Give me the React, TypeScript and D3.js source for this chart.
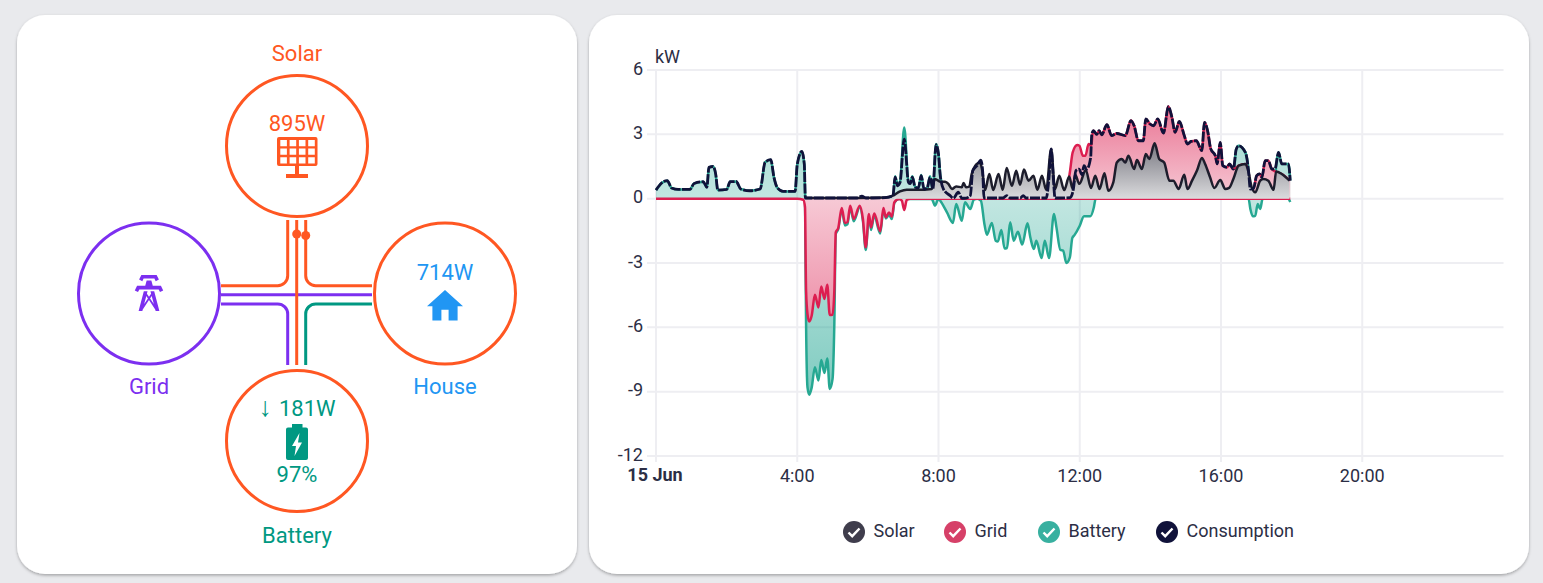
import * as d3 from "d3";

type Pt = [number, number];

const WIDTH = 1543;
const HEIGHT = 583;
const FONT = "Roboto, sans-serif";

const ORANGE = "#ff5722";
const PURPLE = "#7c2ff0";
const GREEN = "#009882";
const BLUE = "#2196f3";

// power readings: [hour of day, kW]
const morningLoad: Pt[] = [[0,.4],[.16,.73],[.32,.84],[.44,.5],[.63,.43],[.96,.43],[1.08,.71],[1.34,.79],[1.44,.53],[1.5,1.46],[1.62,1.5],[1.69,1.15],[1.75,.4],[2,.43],[2.1,.79],[2.27,.8],[2.4,.45],[2.66,.37],[2.95,.45],[3.09,1.7],[3.25,1.82],[3.34,1],[3.44,.5],[3.6,.34],[3.94,.34],[4,1.6],[4.13,2.2],[4.2,1.6]];

const afternoonLoad: Pt[] = [[12.39,3.17],[12.48,3],[12.55,3.17],[12.62,2.98],[12.77,3.45],[12.9,2.94],[13.05,3.04],[13.29,2.94],[13.45,3.64],[13.54,3.4],[13.66,2.7],[13.8,2.7],[13.87,3.72],[13.99,3.48],[14.09,3.4],[14.21,3.72],[14.37,3.06],[14.51,4.3],[14.61,3.79],[14.7,3.09],[14.82,3.6],[14.96,2.94],[15.05,2.55],[15.15,2.67],[15.3,2.7],[15.46,2.24],[15.53,3.56],[15.62,3.17],[15.71,2.32],[15.84,2],[15.89,1.62],[15.98,2.62],[16.05,1.54],[16.17,1.46],[16.24,1.62],[16.35,1.38]];

const consumption: Pt[] = [...morningLoad,[4.23,.03],[5.7,.03],[5.83,.12],[5.95,.03],[6.15,.03],[6.49,.05],[6.71,.14],[6.77,1],[6.84,.6],[6.91,.75],[7.03,2.78],[7.15,.76],[7.2,.7],[7.26,1],[7.34,.53],[7.43,.5],[7.51,1.07],[7.59,.45],[7.68,.5],[7.76,1],[7.84,.45],[7.93,2.52],[8,2.08],[8.05,1.07],[8.14,.45],[8.33,.14],[8.42,.02],[8.56,.3],[8.66,.02],[8.78,.03],[8.9,.14],[8.97,1.3],[9.09,1.54],[9.2,1.8],[9.25,1.3],[9.29,.03],[9.83,.03],[9.93,.14],[10.03,.03],[10.31,.03],[10.4,.14],[10.48,.03],[11.05,.03],[11.13,1],[11.19,2.32],[11.25,1],[11.3,.03],[11.73,.05],[11.82,.45],[11.89,1.3],[11.98,1.38],[12.06,1.12],[12.12,1.54],[12.2,1.38],[12.31,1.93],[12.34,3],...afternoonLoad,[16.43,2.3],[16.5,2.47],[16.69,2.16],[16.78,1.3],[16.83,.45],[16.92,.47],[17.01,1.07],[17.09,1.15],[17.16,1],[17.25,1.77],[17.34,1.77],[17.44,1.38],[17.53,1.4],[17.63,2.16],[17.72,1.62],[17.91,1.62],[17.96,.84]];

const solar: Pt[] = [[4.23,.03],[5.8,.03],[6.49,.05],[6.71,.14],[6.91,.34],[7.1,.42],[7.39,.41],[7.81,.45],[7.9,.92],[8.05,.79],[8.19,.79],[8.28,.69],[8.38,.45],[8.5,.57],[8.66,.53],[8.71,.73],[8.78,.53],[8.87,.56],[8.94,1.15],[9.04,1.54],[9.18,1.69],[9.24,1.3],[9.32,.4],[9.44,1.15],[9.55,.4],[9.7,1.15],[9.82,.41],[9.93,1.43],[10.08,.6],[10.2,1.3],[10.31,.65],[10.42,1.36],[10.55,.84],[10.69,1.07],[10.8,.41],[10.93,1.07],[11.05,.41],[11.19,2.32],[11.3,.45],[11.42,1.07],[11.56,.4],[11.7,1.03],[11.8,.45],[11.87,1.12],[11.99,.69],[12.17,1.34],[12.32,.5],[12.44,1.07],[12.56,.45],[12.7,1.18],[12.81,.37],[12.95,.76],[13.05,1.69],[13.19,1.85],[13.29,1.69],[13.38,2],[13.54,1.38],[13.62,1.8],[13.76,1.38],[13.87,2.08],[13.97,1.85],[14.12,2.58],[14.25,1.85],[14.39,1.69],[14.54,.84],[14.65,.84],[14.8,.45],[14.96,1.12],[15.05,.45],[15.18,.84],[15.32,1.31],[15.46,1.9],[15.55,1.62],[15.69,1],[15.81,.5],[15.98,.87],[16.12,.45],[16.23,.5],[16.35,.92],[16.5,1.54],[16.69,1.62],[16.78,1.23],[16.87,.53],[16.97,.3],[17.11,.84],[17.2,.92],[17.34,.84],[17.49,.41],[17.56,1.27],[17.72,1.15],[17.94,.84]];

// top of the grid band, stacked on solar
const gridImportTop: Pt[] = [[11.4,0],[11.55,.37],[11.63,.4],[11.72,1.23],[11.8,2.16],[11.93,2.5],[11.99,2.47],[12.09,2],[12.16,2],[12.25,2.55],[12.33,2.47],[12.36,3],...afternoonLoad,[16.43,1.45],[16.5,1.54],[16.69,1.62],[16.78,1.23],[16.83,.5],[16.92,.47],[17.01,1.07],[17.09,1.15],[17.16,1],[17.25,1.77],[17.34,1.77],[17.44,1.38],[17.53,1.27],[17.72,1.15],[17.96,.84]];

const gridExport: Pt[] = [[0,0],[4,0],[4.17,-.05],[4.22,-.4],[4.25,-4.3],[4.29,-5.38],[4.34,-5.73],[4.41,-5.45],[4.5,-4.48],[4.6,-5.07],[4.68,-4.1],[4.77,-4.68],[4.85,-4.02],[4.92,-5.42],[5,-5.41],[5.05,-4.29],[5.09,-1.57],[5.16,-1.37],[5.26,-.43],[5.35,-1.13],[5.42,-1.1],[5.5,-.33],[5.6,-.95],[5.77,-.33],[5.86,-.95],[5.94,-2.27],[6.03,-.71],[6.09,-1.34],[6.18,-.69],[6.35,-1.52],[6.44,-.43],[6.51,-.87],[6.6,-.64],[6.68,-.84],[6.75,-.17],[6.88,-.02],[6.96,-.09],[7.03,-.53],[7.1,-.06],[7.2,0],[17.96,0]];

// top of the battery band while discharging
const batteryOutTop: Pt[] = [...morningLoad,[4.23,0],[6.71,0],[6.77,1.05],[6.84,.7],[6.91,.8],[7.03,3.32],[7.15,.8],[7.2,.75],[7.26,1.05],[7.34,.55],[7.43,.5],[7.51,1.1],[7.59,.45],[7.68,.5],[7.76,1.05],[7.84,.45],[7.93,2.55],[8,2.1],[8.05,1.1],[8.14,.5],[8.3,0],[16.3,0],[16.38,1.5],[16.43,2.3],[16.5,2.47],[16.69,2.16],[16.78,1.3],[16.83,0],[17.5,0],[17.55,1.3],[17.63,2.16],[17.72,1.62],[17.91,1.62],[17.96,.84]];

// bottom of the battery band while charging, stacked under grid export
const batteryInBottom: Pt[] = [[4.22,0],[4.25,-5.84],[4.29,-8.8],[4.34,-9.14],[4.41,-8.8],[4.5,-7.86],[4.6,-8.48],[4.68,-7.52],[4.77,-8.13],[4.85,-7.45],[4.92,-8.87],[5,-8.4],[5.05,-5.84],[5.09,-1.65],[5.16,-1.42],[5.26,-.48],[5.35,-1.25],[5.42,-1.2],[5.5,-.4],[5.6,-1.05],[5.77,-.4],[5.86,-1.05],[5.94,-2.39],[6.03,-.8],[6.09,-1.46],[6.18,-.8],[6.35,-1.62],[6.44,-.5],[6.51,-.92],[6.6,-.75],[6.68,-.95],[6.75,-.2],[6.88,-.02],[7.8,0],[7.84,-.1],[7.9,-.33],[8,0],[8.05,-.1],[8.24,-.64],[8.41,-1.13],[8.5,-.25],[8.66,-1.03],[8.75,-.17],[8.9,-.48],[9,-.05],[9.1,0],[9.2,-.09],[9.3,-1.18],[9.37,-1.68],[9.51,-1.13],[9.62,-1.96],[9.68,-2],[9.78,-1.46],[9.87,-2.32],[9.94,-2.3],[10.03,-1.1],[10.13,-1.96],[10.25,-1.54],[10.37,-2.14],[10.52,-1.15],[10.6,-1.8],[10.7,-2.35],[10.77,-1.96],[10.92,-2.77],[11.01,-1.96],[11.13,-2.77],[11.27,-.71],[11.34,-1.34],[11.45,-2.39],[11.53,-2.42],[11.62,-3],[11.72,-2.74],[11.79,-1.83],[11.85,-1.7],[12,-1.26],[12.12,-.82],[12.3,-.82],[12.4,-.4],[12.45,0],[16.78,0],[16.83,-.47],[16.9,-.82],[16.97,-.8],[17.04,-.25],[17.11,-.48],[17.18,0],[17.9,0],[17.96,-.15]];

const yTicks = [6, 3, 0, -3, -6, -9, -12];
const hourTicks = [0, 4, 8, 12, 16, 20];

const legendItems = [
  { name: "Solar", color: "#3f3d4c" },
  { name: "Grid", color: "#d64068" },
  { name: "Battery", color: "#38b0a0" },
  { name: "Consumption", color: "#10123a" },
];
const legendX = [854, 955, 1049, 1167];

const x = d3.scaleLinear().domain([0, 24]).range([656, 1503.5]);
const y = d3.scaleLinear().domain([6, -12]).range([70, 456]);

const line = d3.line<Pt>().x((d) => x(d[0])).y((d) => y(d[1])).curve(d3.curveMonotoneX);
const area = d3.area<Pt>().x((d) => x(d[0])).y1((d) => y(d[1])).y0(y(0)).curve(d3.curveMonotoneX);

// fill gets stronger the further a band is from zero
const Gradient = ({ id, color, top, bottom, zero }: { id: string; color: string; top: [number, number]; bottom: [number, number]; zero: number }) => {
  const pos = (v: number) => (y(v) - y(top[0])) / (y(bottom[0]) - y(top[0]));
  return (
    <linearGradient id={id} gradientUnits="userSpaceOnUse" x1={0} x2={0} y1={y(top[0])} y2={y(bottom[0])}>
      <stop offset={0} stopColor={color} stopOpacity={top[1]} />
      <stop offset={pos(0)} stopColor={color} stopOpacity={zero} />
      <stop offset={1} stopColor={color} stopOpacity={bottom[1]} />
    </linearGradient>
  );
};

const Band = ({ data, fill, stroke, cover = true }: { data: Pt[]; fill: string; stroke: string; cover?: boolean }) => (
  <g>
    {cover && <path d={area(data) ?? ""} fill="#fff" />}
    <path d={area(data) ?? ""} fill={fill} />
    <path d={line(data) ?? ""} fill="none" stroke={stroke} strokeWidth={2.5} />
  </g>
);

const FlowText = ({ px, py, color, size = 22, children }: { px: number; py: number; color: string; size?: number; children: React.ReactNode }) => (
  <text x={px} y={py} fill={color} fontSize={size} textAnchor="middle" fontFamily={FONT}>
    {children}
  </text>
);

const Flow = () => {
  const r = 70.5;
  const nodes = [
    { cx: 297, cy: 146, color: ORANGE },
    { cx: 149, cy: 293.5, color: PURPLE },
    { cx: 445, cy: 293.5, color: ORANGE },
    { cx: 297, cy: 441, color: ORANGE },
  ];
  return (
    <g>
      <g fill="none" strokeWidth={3}>
        <path d="M221,294.7H372" stroke={PURPLE} />
        <path d="M287.7,220V275.7a10,10 0 0 1 -10,10H221" stroke={ORANGE} />
        <path d="M305.7,220V275.7a10,10 0 0 0 10,10H372" stroke={ORANGE} />
        <path d="M221,304H277.7a10,10 0 0 1 10,10V365" stroke={PURPLE} />
        <path d="M372,304H315.7a10,10 0 0 0 -10,10V365" stroke={GREEN} />
        <path d="M296.7,220V365" stroke={ORANGE} />
      </g>
      <circle cx={296.7} cy={234} r={4.5} fill={ORANGE} />
      <circle cx={305.7} cy={235.5} r={4.5} fill={ORANGE} />
      {nodes.map((n, i) => (
        <circle key={i} cx={n.cx} cy={n.cy} r={r} fill="none" stroke={n.color} strokeWidth={3} />
      ))}

      <FlowText px={297} py={61} color={ORANGE}>Solar</FlowText>
      <FlowText px={297} py={131} color={ORANGE}>895W</FlowText>
      <g fill={ORANGE}>
        <path
          fillRule="evenodd"
          d={
            "M279,137H315.5a2,2 0 0 1 2,2V164a2,2 0 0 1 -2,2H279a2,2 0 0 1 -2,-2V139a2,2 0 0 1 2,-2Z" +
            d3.range(4).map((c) => d3.range(3).map((w) => `M${280.3 + c * 9.3},${140 + w * 8.6}h6.6v6.2h-6.6Z`).join("")).join("")
          }
        />
        <rect x={295} y={165} width={4} height={12} />
        <rect x={286} y={174} width={22} height={4} />
      </g>

      <g transform="translate(127.4,271.4) scale(1.8)" fill={PURPLE}>
        <path d="M8.28,5.45L6.5,4.55L7.76,2H16.23L17.5,4.55L15.72,5.44L15,4H9L8.28,5.45M18.62,8H14.09L13.3,5H10.7L9.91,8H5.38L4.1,10.55L5.89,11.44L6.62,10H17.38L18.1,11.45L19.89,10.56L18.62,8M17.77,22H15.7L15.46,21.1L12,15.9L8.53,21.1L8.3,22H6.23L9.12,11H11.19L10.83,12.35L12,14.1L13.16,12.35L12.81,11H14.88L17.77,22M11.4,15L10.5,13.65L9.32,18.13L11.4,15M14.68,18.12L13.5,13.64L12.6,15L14.68,18.12Z" />
      </g>
      <FlowText px={149} py={394} color={PURPLE}>Grid</FlowText>

      <FlowText px={445} py={280} color={BLUE}>714W</FlowText>
      <g transform="translate(423.4,284.6) scale(1.8)" fill={BLUE}>
        <path d="M10,20V14H14V20H19V12H22L12,3L2,12H5V20H10Z" />
      </g>
      <FlowText px={445} py={394} color={BLUE}>House</FlowText>

      <FlowText px={297} py={416} color={GREEN}>
        <tspan fontSize={27} fontWeight={500}>↓</tspan>
        <tspan dx={7}>181W</tspan>
      </FlowText>
      <path
        fill={GREEN}
        fillRule="evenodd"
        d="M292,424H302.5V427.5H306a2,2 0 0 1 2,2V458a2,2 0 0 1 -2,2H288a2,2 0 0 1 -2,-2V429.5a2,2 0 0 1 2,-2H292Z M299.5,433L292,446H296L294.5,456L302,442.5H298Z"
      />
      <FlowText px={297} py={482} color={GREEN}>97%</FlowText>
      <FlowText px={297} py={543} color={GREEN}>Battery</FlowText>
    </g>
  );
};

const Chart = () => {
  const textColor = "#2c2e45";
  return (
    <g fontFamily={FONT}>
      {/* grid */}
      {yTicks.map((t) => (
        <g key={t}>
          <line x1={647} x2={x(24)} y1={y(t)} y2={y(t)} stroke="#eeeef2" strokeWidth={2} />
          <text x={643} y={y(t) + 4.5} textAnchor="end" fontSize={18} fill={textColor}>{t}</text>
        </g>
      ))}
      {hourTicks.map((h) => (
        <line key={h} x1={x(h)} x2={x(h)} y1={y(6)} y2={462} stroke="#eeeef2" strokeWidth={2} />
      ))}
      <text x={655} y={63} fontSize={18} fill={textColor}>kW</text>

      <Band data={batteryOutTop} fill="url(#batteryFill)" stroke="#26a892" cover={false} />
      <Band data={batteryInBottom} fill="url(#batteryFill)" stroke="#26a892" cover={false} />
      <Band data={gridImportTop} fill="url(#gridFill)" stroke="#dc1e50" />
      <Band data={gridExport} fill="url(#gridFill)" stroke="#dc1e50" />
      <Band data={solar} fill="url(#solarFill)" stroke="#1d1d2c" />
      <path d={line(consumption) ?? ""} fill="none" stroke="#10123a" strokeWidth={2.8} strokeDasharray="10 1.5" />

      {/* x axis labels */}
      {hourTicks.map((h) =>
        h === 0 ? (
          <text key={h} x={x(h) - 1} y={481} textAnchor="middle" fontSize={18} fontWeight={700} fill={textColor}>15 Jun</text>
        ) : (
          <text key={h} x={x(h)} y={482} textAnchor="middle" fontSize={18} fill={textColor}>{`${h}:00`}</text>
        ),
      )}

      {/* legend */}
      {legendItems.map((item, i) => (
        <g key={item.name} transform={`translate(${legendX[i]},532)`}>
          <circle r={11} fill={item.color} />
          <path d="M-5.5,0.5L-1.8,4.2L5.5,-3.5" fill="none" stroke="#fff" strokeWidth={2.4} />
          <text x={19.5} y={5} fontSize={18} fill={textColor}>{item.name}</text>
        </g>
      ))}
    </g>
  );
};

export default function App() {
  return (
    <svg
      width={WIDTH}
      height={HEIGHT}
      viewBox={`0 0 ${WIDTH} ${HEIGHT}`}
      style={{ position: "fixed", left: 0, top: 0, display: "block" }}
    >
      <defs>
        <filter id="cardShadow" x="-5%" y="-5%" width="110%" height="110%">
          <feDropShadow dx={0} dy={1.5} stdDeviation={1.5} floodColor="#000" floodOpacity={0.3} />
        </filter>
        <Gradient id="gridFill" color="#dc1e50" top={[4.4, 0.62]} bottom={[-5.8, 0.5]} zero={0.24} />
        <Gradient id="batteryFill" color="#009882" top={[3.4, 0.35]} bottom={[-9.2, 0.5]} zero={0.24} />
        <Gradient id="solarFill" color="#1d1d2c" top={[2.6, 0.6]} bottom={[-1, 0.12]} zero={0.16} />
      </defs>
      <rect width={WIDTH} height={HEIGHT} fill="#e9eaed" />
      <rect x={17} y={15} width={560} height={559} rx={28} fill="#fff" filter="url(#cardShadow)" />
      <rect x={589} y={15} width={940} height={559} rx={28} fill="#fff" filter="url(#cardShadow)" />
      <Flow />
      <Chart />
    </svg>
  );
}
